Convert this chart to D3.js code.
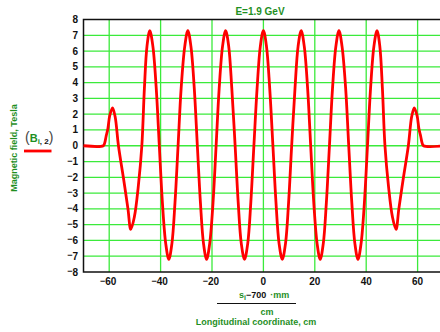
<!DOCTYPE html>
<html>
<head>
<meta charset="utf-8">
<script src="https://cdn.jsdelivr.net/npm/d3@7"></script>
<style>
  body { margin: 0; background: #fff; }
  svg { font-family: "Liberation Sans", Arial, sans-serif; font-weight: bold; }
</style>
</head>
<body>
<div id="chart"></div>
<script>
// Longitudinal coordinate (cm)
var position = [
  -70, -62.3, -61.8, -61.2, -60.5, -59.8, -58.7, -57.7, -56.4, -54.5, -52.7, -51.6,
  -50.2, -48.7, -47.3, -46.3, -45.3, -44.2,
  -43.0, -41.7, -40.5, -39.3, -38.0, -36.8, -35.6, -34.4, -33.2, -32.0, -30.6, -29.4,
  -28.2, -26.9, -25.7, -24.5, -23.3, -22.1, -20.9, -19.6, -18.4, -17.2, -15.9, -14.7,
  -13.5, -12.3, -11.0, -9.8, -8.6, -7.35, -6.1, -4.9, -3.7, -2.45, -1.2, 0,
  1.2, 2.45, 3.7, 4.9, 6.1, 7.35, 8.6, 9.8, 11.0, 12.3, 13.5, 14.7,
  15.9, 17.2, 18.4, 19.6, 20.9, 22.1, 23.3, 24.5, 25.7, 26.9, 28.2, 29.4,
  30.6, 32.0, 33.2, 34.4, 35.6, 36.8, 38.0, 39.3, 40.5, 41.7, 43.0, 44.2,
  45.3, 46.3, 47.3, 48.7, 50.2, 51.6, 52.7, 54.5, 56.4, 57.7, 58.7, 59.8,
  60.5, 61.2, 61.8, 62.3, 70
];
// Magnetic field (Tesla)
var field = [
  0, 0, 0.15, 0.6, 1.1, 1.9, 2.4, 1.85, 0, -2.0, -4.0, -5.3,
  -4.5, -2.6, 0, 3.65, 6.3, 7.3,
  6.3, 3.65, 0, -3.6, -6.2, -7.2, -6.2, -3.6, 0, 3.65, 6.3, 7.3,
  6.3, 3.65, 0, -3.6, -6.2, -7.2, -6.2, -3.6, 0, 3.65, 6.3, 7.3,
  6.3, 3.65, 0, -3.6, -6.2, -7.2, -6.2, -3.6, 0, 3.65, 6.3, 7.3,
  6.3, 3.65, 0, -3.6, -6.2, -7.2, -6.2, -3.6, 0, 3.65, 6.3, 7.3,
  6.3, 3.65, 0, -3.6, -6.2, -7.2, -6.2, -3.6, 0, 3.65, 6.3, 7.3,
  6.3, 3.65, 0, -3.6, -6.2, -7.2, -6.2, -3.6, 0, 3.65, 6.3, 7.3,
  6.3, 3.65, 0, -2.6, -4.5, -5.3, -4.0, -2.0, 0, 1.85, 2.4, 1.9,
  1.1, 0.6, 0.15, 0, 0
];
var xTicks = [-60, -40, -20, 0, 20, 40, 60];
var yTicks = [-8, -7, -6, -5, -4, -3, -2, -1, 0, 1, 2, 3, 4, 5, 6, 7, 8];

var green = '#1f8f1f';
var grid = '#3bea3b';

var svg = d3.select('#chart').append('svg')
  .attr('width', 440)
  .attr('height', 332);

// Plot area
var plotL = 83.5, plotR = 443.3, plotT = 19.5, plotB = 272;
var x = d3.scaleLinear().domain([-70, 70]).range([plotL, plotR]);
var y = d3.scaleLinear().domain([-8, 8]).range([plotB, plotT]);

// Grid lines
svg.append('g').selectAll('line')
  .data(yTicks.filter(function(d) { return d > -8 && d < 8; }))
  .enter().append('line')
  .attr('x1', plotL).attr('x2', plotR)
  .attr('y1', function(d) { return y(d); })
  .attr('y2', function(d) { return y(d); })
  .style('stroke', grid)
  .style('stroke-width', 1.3);
svg.append('g').selectAll('line')
  .data(xTicks)
  .enter().append('line')
  .attr('x1', function(d) { return x(d); })
  .attr('x2', function(d) { return x(d); })
  .attr('y1', plotT).attr('y2', plotB)
  .style('stroke', grid)
  .style('stroke-width', 1.3);

// Frame: left, bottom and top
svg.append('path')
  .attr('d', 'M' + plotR + ',' + plotT + 'H' + plotL + 'V' + plotB + 'H' + plotR)
  .style('fill', 'none')
  .style('stroke', '#111')
  .style('stroke-width', 1.5);

// Tick labels with a raised minus sign
function tickText(sel, v) {
  if (v < 0) {
    sel.append('tspan').attr('dy', -1.5).style('font-size', '9px').text('\u2212');
    sel.append('tspan').attr('dy', 1.5).text(Math.abs(v));
  } else {
    sel.text(v);
  }
}

svg.append('g').selectAll('text')
  .data(yTicks)
  .enter().append('text')
  .attr('x', 78)
  .attr('y', function(d) { return y(d) + 3.5; })
  .style('text-anchor', 'end')
  .style('font-size', '10px')
  .style('fill', '#111')
  .each(function(d) { tickText(d3.select(this), d); });

svg.append('g').selectAll('text')
  .data(xTicks)
  .enter().append('text')
  .attr('x', function(d) { return x(d) + (d < 0 ? -1 : 0); })
  .attr('y', 285)
  .style('text-anchor', 'middle')
  .style('font-size', '10px')
  .style('fill', '#111')
  .each(function(d) { tickText(d3.select(this), d); });

// Field curve
var line = d3.line()
  .x(function(d) { return x(d[0]); })
  .y(function(d) { return y(d[1]); })
  .curve(d3.curveCatmullRom.alpha(0.5));
svg.append('path')
  .datum(d3.zip(position, field))
  .attr('d', line)
  .style('fill', 'none')
  .style('stroke', '#ff0000')
  .style('stroke-width', 2.8)
  .style('stroke-linejoin', 'round');

// Title
svg.append('text')
  .attr('x', 260).attr('y', 15)
  .style('text-anchor', 'middle')
  .style('font-size', '10px')
  .style('fill', green)
  .text('E=1.9 GeV');

// Y axis title
svg.append('text')
  .attr('transform', 'translate(17,148) rotate(-90)')
  .style('text-anchor', 'middle')
  .style('font-size', '9px')
  .style('fill', green)
  .text('Magnetic field, Tesla');

// Legend
var leg = svg.append('text')
  .attr('x', 25).attr('y', 142)
  .style('font-size', '11px');
leg.append('tspan').style('fill', '#444').style('font-weight', 'normal').style('font-size', '14px').text('(');
leg.append('tspan').style('fill', green).text('B');
leg.append('tspan').attr('dy', 2).style('fill', green).style('font-size', '8px').text('i');
leg.append('tspan').style('fill', '#111').style('font-size', '8px').text(', 2');
leg.append('tspan').attr('dy', -2).style('fill', '#444').style('font-weight', 'normal').style('font-size', '14px').text(')');
svg.append('line')
  .attr('x1', 24).attr('x2', 51.5)
  .attr('y1', 151).attr('y2', 151)
  .style('stroke', '#ff0000')
  .style('stroke-width', 2.8);

// X axis title
var xl = svg.append('text')
  .attr('x', 239).attr('y', 298)
  .style('font-size', '9px');
xl.append('tspan').style('fill', green).text('s');
xl.append('tspan').attr('dy', 2).style('fill', green).style('font-size', '7px').text('i');
xl.append('tspan').attr('dy', -2).style('fill', '#111').text('\u2212700');
xl.append('tspan').attr('dx', 4).style('fill', green).text('\u00b7mm');
svg.append('line')
  .attr('x1', 217).attr('x2', 296)
  .attr('y1', 303.5).attr('y2', 303.5)
  .style('stroke', '#111')
  .style('stroke-width', 1);
svg.append('text')
  .attr('x', 267).attr('y', 314.5)
  .style('text-anchor', 'middle')
  .style('font-size', '9px')
  .style('fill', green)
  .text('cm');
svg.append('text')
  .attr('x', 256).attr('y', 324.5)
  .style('text-anchor', 'middle')
  .style('font-size', '9px')
  .style('fill', green)
  .text('Longitudinal coordinate, cm');
</script>
</body>
</html>
